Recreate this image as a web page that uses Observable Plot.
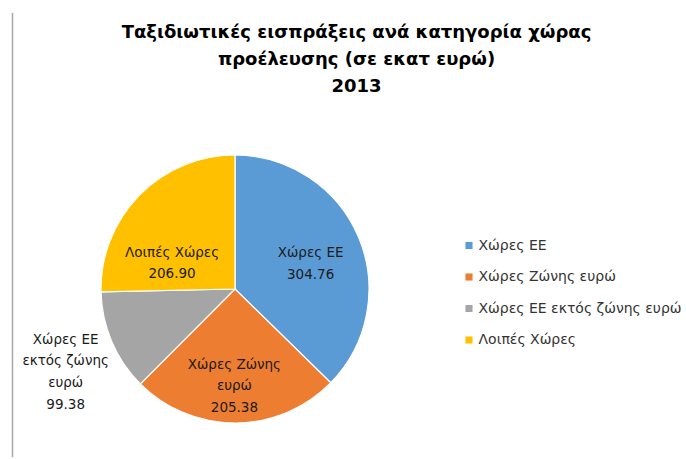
<!DOCTYPE html>
<html><head><meta charset="utf-8">
<script src="https://cdn.jsdelivr.net/npm/d3@7"></script>
<script src="https://cdn.jsdelivr.net/npm/@observablehq/plot@0.6"></script>
<style>html,body{margin:0;padding:0;background:#fff}svg{display:block}</style>
</head><body><div id="chart"></div>
<script>
// ---- data ----
const categories = ["Χώρες ΕΕ", "Χώρες Ζώνης ευρώ", "Χώρες ΕΕ εκτός ζώνης ευρώ", "Λοιπές Χώρες"];
const values = [304.76, 205.38, 99.38, 206.90];
const labelNames = [["Χώρες ΕΕ"], ["Χώρες Ζώνης", "ευρώ"], ["Χώρες ΕΕ", "εκτός ζώνης", "ευρώ"], ["Λοιπές Χώρες"]];
const colors = ["#5B9BD5", "#ED7D31", "#A5A5A5", "#FFC000"];
const titleLines = ["Ταξιδιωτικές εισπράξεις ανά κατηγορία χώρας", "προέλευσης (σε εκατ ευρώ)", "2013"];

// ---- layout ----
const W = 686, H = 459;
const cx = 235, cy = 289, R = 134;
const labelPlace = [{r: 0.6, da: 2}, {r: 0.70, da: 1}, {r: 1.40, da: -2}, {r: 0.52, da: -20}];
const font = "DejaVu Sans, Liberation Sans, sans-serif";

const data = categories.map((c, i) => ({category: c, value: values[i], names: labelNames[i]}));
const arcs = d3.pie().sort(null).value(d => d.value)(data);
const fmt = d3.format(".2f");

const labels = arcs.map((a, i) => {
  const mid = (a.startAngle + a.endAngle) / 2 + labelPlace[i].da * Math.PI / 180;
  const r = R * labelPlace[i].r;
  return {
    x: cx + r * Math.sin(mid),
    y: cy - r * Math.cos(mid),
    text: [...a.data.names, fmt(a.data.value)].join("\n")
  };
});

const legend = data.map((d, i) => ({category: d.category, y: 245 + i * 31.5}));
const titles = titleLines.map((t, i) => ({text: t, y: 32 + i * 27}));

function pieMark(index, scales) {
  const {x, y, color} = scales;
  const rad = x(cx + R) - x(cx);
  const arc = d3.arc().innerRadius(0).outerRadius(rad);
  const g = d3.create("svg:g").attr("transform", `translate(${x(cx)},${y(cy)})`);
  g.selectAll("path").data(arcs).join("path")
    .attr("d", arc)
    .attr("fill", d => color(d.data.category))
    .attr("stroke", "#fff")
    .attr("stroke-width", 1.2);
  return g.node();
}

const chart = Plot.plot({
  width: W, height: H, margin: 0,
  style: {fontFamily: font, background: "#fff"},
  x: {domain: [0, W], range: [0, W], axis: null},
  y: {domain: [0, H], range: [0, H], axis: null},
  color: {domain: categories, range: colors},
  marks: [
    Plot.ruleX([12], {y1: 13, y2: H - 2, stroke: "#a6a6a6", strokeWidth: 1.5}),
    pieMark,
    Plot.text(titles, {x: 356, y: "y", text: "text", fontSize: 18, fontWeight: "bold", fill: "#000"}),
    Plot.text(labels, {x: "x", y: "y", text: "text", fontSize: 13.5, lineHeight: 1.6, fill: "#1a1a1a"}),
    Plot.dot(legend, {x: 468.5, y: "y", symbol: "square", r: 4, fill: "category", stroke: null}),
    Plot.text(legend, {x: 478, y: "y", text: "category", textAnchor: "start", fontSize: 14, fill: "#333"})
  ]
});
document.getElementById("chart").appendChild(chart);
</script>
</body></html>
